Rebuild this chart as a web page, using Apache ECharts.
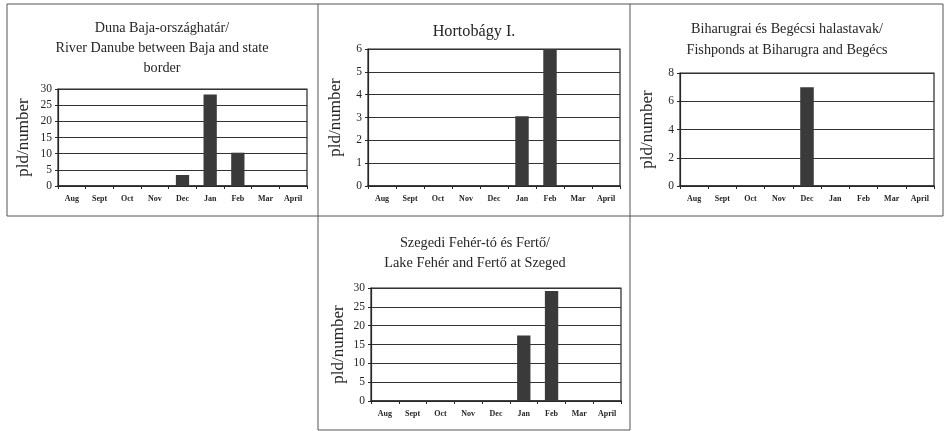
<!DOCTYPE html>
<html>
<head>
<meta charset="utf-8">
<script src="https://cdn.jsdelivr.net/npm/echarts@6/dist/echarts.min.js"></script>
<style>
html,body{margin:0;padding:0;background:#fff;}
#c{width:946px;height:431px;}
</style>
</head>
<body>
<div id="c"></div>
<script>
const months = ['Aug','Sept','Oct','Nov','Dec','Jan','Feb','Mar','April'];
const dunaValues = [0,0,0,0,3.4,28.3,10.3,0,0];
const hortoValues = [0,0,0,0,0,3.05,6,0,0];
const biharValues = [0,0,0,0,7,0,0,0,0];
const szegedValues = [0,0,0,0,0,17.4,29.2,0,0];
const titles = [
  'Duna Baja-országhatár/\nRiver Danube between Baja and state\nborder',
  'Hortobágy I.',
  'Biharugrai és Begécsi halastavak/\nFishponds at Biharugra and Begécs',
  'Szegedi Fehér-tó és Fertő/\nLake Fehér and Fertő at Szeged'
];
const yMax = [30, 6, 8, 30];
const yStep = [5, 1, 2, 5];
const yName = 'pld/number';

const FONT = '"Liberation Serif", "DejaVu Serif", serif';
const INK = '#262626';

const grids = [
  {left: 58, top: 89, width: 249, height: 97},
  {left: 368, top: 49, width: 252, height: 137},
  {left: 680, top: 73, width: 254, height: 113},
  {left: 371, top: 288, width: 250, height: 113}
];
const titlePos = [
  {x: 162, y: 18, size: 14.2, lh: 20},
  {x: 474, y: 22, size: 16.2, lh: 20},
  {x: 787, y: 19, size: 14.2, lh: 21},
  {x: 475, y: 233, size: 14.3, lh: 20}
];
const seriesData = [dunaValues, hortoValues, biharValues, szegedValues];

const option = {
  animation: false,
  backgroundColor: '#fff',
  title: titles.map((t, i) => ({
    text: t,
    left: titlePos[i].x,
    top: titlePos[i].y,
    textAlign: 'center',
    padding: 0,
    textStyle: {fontFamily: FONT, fontWeight: 'normal', fontSize: titlePos[i].size, lineHeight: titlePos[i].lh, color: INK}
  })),
  grid: grids.map(g => Object.assign({show: true, borderColor: INK, borderWidth: 1.2, backgroundColor: 'transparent'}, g)),
  xAxis: grids.map((g, i) => ({
    type: 'category',
    gridIndex: i,
    data: months,
    axisLine: {lineStyle: {color: INK, width: 1.5}},
    axisTick: {show: true, length: 3, lineStyle: {color: INK}},
    axisLabel: {fontFamily: FONT, fontSize: 8, fontWeight: 'bold', color: INK, margin: 9, interval: 0}
  })),
  yAxis: grids.map((g, i) => ({
    type: 'value',
    gridIndex: i,
    min: 0,
    max: yMax[i],
    interval: yStep[i],
    name: yName,
    nameLocation: 'middle',
    nameRotate: 90,
    nameGap: i === 0 ? 26 : 24,
    nameTextStyle: {fontFamily: FONT, fontSize: 17, color: INK},
    axisLine: {show: true, lineStyle: {color: INK, width: 1.2}},
    axisTick: {show: true, length: 3, lineStyle: {color: INK}},
    axisLabel: {fontFamily: FONT, fontSize: 11.5, color: INK, margin: 6},
    splitLine: {show: true, lineStyle: {color: '#333', width: 1}}
  })),
  series: seriesData.map((d, i) => ({
    type: 'bar',
    xAxisIndex: i,
    yAxisIndex: i,
    data: d,
    barWidth: '48%',
    itemStyle: {color: '#3a3a3a'}
  })),
  graphic: [
    {type: 'polyline', shape: {points: [[7,4],[943,4]]}, style: {stroke: '#555', lineWidth: 1}, silent: true},
    {type: 'polyline', shape: {points: [[7,216],[943,216]]}, style: {stroke: '#555', lineWidth: 1}, silent: true},
    {type: 'polyline', shape: {points: [[7,4],[7,216]]}, style: {stroke: '#555', lineWidth: 1}, silent: true},
    {type: 'polyline', shape: {points: [[943,4],[943,216]]}, style: {stroke: '#555', lineWidth: 1}, silent: true},
    {type: 'polyline', shape: {points: [[318,4],[318,430]]}, style: {stroke: '#555', lineWidth: 1}, silent: true},
    {type: 'polyline', shape: {points: [[630,4],[630,430]]}, style: {stroke: '#555', lineWidth: 1}, silent: true},
    {type: 'polyline', shape: {points: [[318,430],[630,430]]}, style: {stroke: '#555', lineWidth: 1}, silent: true}
  ]
};
const chart = echarts.init(document.getElementById('c'), null, {renderer: 'canvas'});
chart.setOption(option);
</script>
</body>
</html>
